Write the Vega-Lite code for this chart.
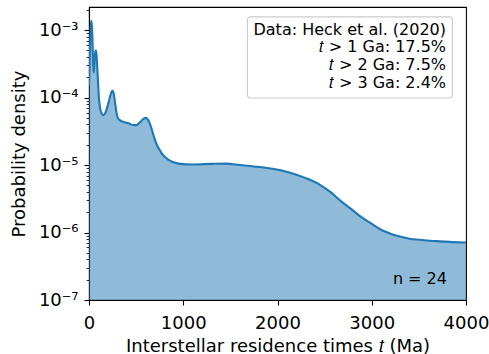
{
  "$schema": "https://vega.github.io/schema/vega-lite/v6.json",
  "width": 377,
  "height": 293,
  "autosize": {"type": "none"},
  "padding": {"left": 89, "top": 7, "right": 23, "bottom": 54},
  "background": "white",
  "config": {
    "font": "DejaVu Sans",
    "view": {"stroke": "black", "strokeWidth": 1.1},
    "axis": {
      "grid": false,
      "domainColor": "black",
      "domainWidth": 1.1,
      "tickColor": "black",
      "tickWidth": 1.1,
      "labelColor": "black",
      "labelFont": "DejaVu Sans",
      "labelFontSize": 18,
      "titleColor": "black",
      "titleFont": "DejaVu Sans",
      "titleFontSize": 18,
      "titleFontWeight": "normal"
    }
  },
  "data": {
    "values": [
      {"t": 0, "density": 1.5e-4},
      {"t": 10, "density": 5.0e-4},
      {"t": 20, "density": 1.2e-3},
      {"t": 28, "density": 1.37e-3},
      {"t": 36, "density": 8.0e-4},
      {"t": 44, "density": 3.2e-4},
      {"t": 50, "density": 2.35e-4},
      {"t": 58, "density": 3.3e-4},
      {"t": 68, "density": 4.8e-4},
      {"t": 75, "density": 5.0e-4},
      {"t": 84, "density": 3.5e-4},
      {"t": 95, "density": 1.8e-4},
      {"t": 105, "density": 1.0e-4},
      {"t": 117, "density": 7.1e-5},
      {"t": 134, "density": 5.8e-5},
      {"t": 152, "density": 5.5e-5},
      {"t": 170, "density": 5.8e-5},
      {"t": 187, "density": 6.7e-5},
      {"t": 205, "density": 8.2e-5},
      {"t": 222, "density": 1.02e-4},
      {"t": 240, "density": 1.22e-4},
      {"t": 250, "density": 1.26e-4},
      {"t": 262, "density": 1.15e-4},
      {"t": 276, "density": 8.5e-5},
      {"t": 290, "density": 6.2e-5},
      {"t": 305, "density": 5.0e-5},
      {"t": 330, "density": 4.6e-5},
      {"t": 370, "density": 4.35e-5},
      {"t": 420, "density": 4.15e-5},
      {"t": 470, "density": 3.9e-5},
      {"t": 500, "density": 3.9e-5},
      {"t": 540, "density": 4.3e-5},
      {"t": 575, "density": 4.8e-5},
      {"t": 605, "density": 5.0e-5},
      {"t": 630, "density": 4.6e-5},
      {"t": 660, "density": 3.6e-5},
      {"t": 690, "density": 2.6e-5},
      {"t": 720, "density": 2.0e-5},
      {"t": 770, "density": 1.5e-5},
      {"t": 840, "density": 1.2e-5},
      {"t": 950, "density": 1.05e-5},
      {"t": 1100, "density": 1.02e-5},
      {"t": 1300, "density": 1.04e-5},
      {"t": 1450, "density": 1.05e-5},
      {"t": 1600, "density": 1.0e-5},
      {"t": 1800, "density": 9.4e-6},
      {"t": 1950, "density": 8.8e-6},
      {"t": 2133, "density": 7.7e-6},
      {"t": 2300, "density": 6.4e-6},
      {"t": 2450, "density": 5.1e-6},
      {"t": 2560, "density": 4.0e-6},
      {"t": 2663, "density": 3.0e-6},
      {"t": 2770, "density": 2.3e-6},
      {"t": 2875, "density": 1.75e-6},
      {"t": 2980, "density": 1.4e-6},
      {"t": 3088, "density": 1.12e-6},
      {"t": 3200, "density": 9.6e-7},
      {"t": 3300, "density": 8.7e-7},
      {"t": 3400, "density": 8.1e-7},
      {"t": 3512, "density": 7.8e-7},
      {"t": 3620, "density": 7.55e-7},
      {"t": 3724, "density": 7.4e-7},
      {"t": 3860, "density": 7.2e-7},
      {"t": 4000, "density": 7.1e-7}
    ]
  },
  "layer": [
    {
      "mark": {"type": "area", "color": "#1f77b4", "opacity": 0.5, "interpolate": "monotone", "clip": true},
      "encoding": {
        "x": {
          "field": "t", "type": "quantitative",
          "scale": {"domain": [0, 4000], "nice": false, "zero": false},
          "axis": {
            "title": "Interstellar residence times 𝑡 (Ma)",
            "values": [0, 1000, 2000, 3000, 4000],
            "format": "d",
            "tickSize": 5,
            "labelPadding": 9,
            "titlePadding": 5,
            "labelFlush": false
          }
        },
        "y": {
          "field": "density", "type": "quantitative",
          "scale": {"type": "log", "domain": [1e-7, 2.2e-3], "nice": false},
          "axis": {
            "title": "Probability density",
            "values": [1e-7, 2e-7, 3e-7, 4e-7, 5e-7, 6e-7, 7e-7, 8e-7, 9e-7, 1e-6, 2e-6, 3e-6, 4e-6, 5e-6, 6e-6, 7e-6, 8e-6, 9e-6, 1e-5, 2e-5, 3e-5, 4e-5, 5e-5, 6e-5, 7e-5, 8e-5, 9e-5, 1e-4, 2e-4, 3e-4, 4e-4, 5e-4, 6e-4, 7e-4, 8e-4, 9e-4, 1e-3, 2e-3],
            "labelExpr": "abs(log(datum.value)/LN10 - round(log(datum.value)/LN10)) < 0.01 ? '10⁻' + ['','','','³','⁴','⁵','⁶','⁷'][-round(log(datum.value)/LN10)] : ''",
            "tickSize": {"condition": {"test": "abs(log(datum.value)/LN10 - round(log(datum.value)/LN10)) < 0.01", "value": 5}, "value": 3},
            "tickWidth": {"condition": {"test": "abs(log(datum.value)/LN10 - round(log(datum.value)/LN10)) < 0.01", "value": 1.1}, "value": 0.8},
            "labelPadding": 6,
            "labelFlush": false,
            "labelOverlap": false,
            "titlePadding": 10
          }
        },
        "y2": {"datum": 1e-7}
      }
    },
    {
      "mark": {"type": "line", "color": "#1f77b4", "strokeWidth": 2.1, "interpolate": "monotone", "clip": true},
      "encoding": {
        "x": {"field": "t", "type": "quantitative"},
        "y": {"field": "density", "type": "quantitative"}
      }
    },
    {
      "data": {"values": [{}]},
      "mark": {"type": "rect", "fill": "white", "fillOpacity": 0.8, "stroke": "#cccccc", "strokeWidth": 1.1, "cornerRadius": 3},
      "encoding": {
        "x": {"datum": 1681, "type": "quantitative"},
        "x2": {"datum": 3855},
        "y": {"datum": 1.573e-3, "type": "quantitative"},
        "y2": {"datum": 9.84e-5}
      }
    },
    {
      "data": {"values": [{}]},
      "mark": {"type": "text", "align": "right", "baseline": "alphabetic", "fontSize": 16, "lineHeight": 17.7, "color": "black", "font": "DejaVu Sans",
        "text": ["Data: Heck et al. (2020)", "𝑡 > 1 Ga: 17.5%", "𝑡 > 2 Ga: 7.5%", "𝑡 > 3 Ga: 2.4%"]},
      "encoding": {
        "x": {"datum": 3788, "type": "quantitative"},
        "y": {"datum": 8.52e-4, "type": "quantitative"}
      }
    },
    {
      "data": {"values": [{}]},
      "mark": {"type": "text", "align": "right", "baseline": "alphabetic", "fontSize": 16, "color": "black", "font": "DejaVu Sans", "text": "n = 24"},
      "encoding": {
        "x": {"datum": 3798, "type": "quantitative"},
        "y": {"datum": 1.75e-7, "type": "quantitative"}
      }
    }
  ]
}
